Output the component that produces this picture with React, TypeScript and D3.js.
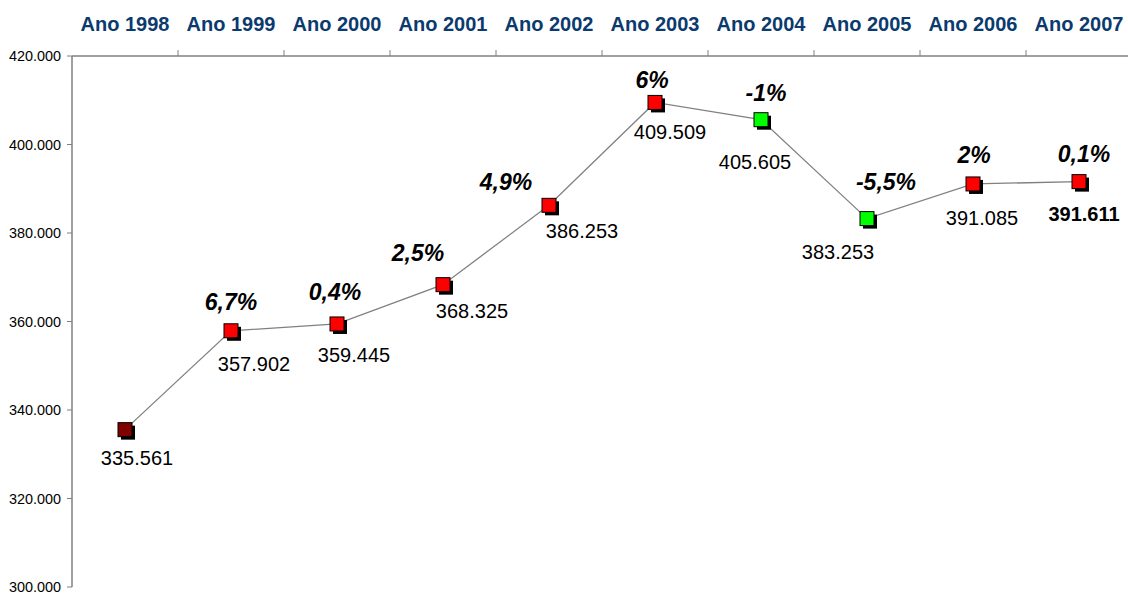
import React from "react";
import * as d3 from "d3";

const years = ["Ano 1998", "Ano 1999", "Ano 2000", "Ano 2001", "Ano 2002", "Ano 2003", "Ano 2004", "Ano 2005", "Ano 2006", "Ano 2007"];
const values = [335561, 357902, 359445, 368325, 386253, 409509, 405605, 383253, 391085, 391611];
const changeLabels = ["", "6,7%", "0,4%", "2,5%", "4,9%", "6%", "-1%", "-5,5%", "2%", "0,1%"];
const markerColors = ["#800000", "#FF0000", "#FF0000", "#FF0000", "#FF0000", "#FF0000", "#00FF00", "#00FF00", "#FF0000", "#FF0000"];
const yTicks = [300000, 320000, 340000, 360000, 380000, 400000, 420000];
// label nudges relative to each marker (value label, change label)
const valueLabelNudge: [number, number][] = [[12, 28], [23, 33], [17, 31], [29, 26], [33, 26], [15, 30], [-6, 42], [-29, 33], [9, 34], [5, 32]];
const changeLabelNudge: [number, number][] = [[0, 0], [0, -29], [-2, -32], [-25, -32], [-43, -23], [-3, -22], [5, -27], [19, -37], [1, -29], [5, -28]];

const W = 1128;
const H = 593;

export default function App() {
  const x = d3.scaleBand<string>().domain(years).range([72, 1132]).padding(0);
  const y = d3.scaleLinear().domain([300000, 420000]).range([587, 56]);
  const loc = d3.formatLocale({ decimal: ",", thousands: ".", grouping: [3], currency: ["", ""] });
  const fmtInt = loc.format(",d");
  const pts = values.map((v, i) => [(x(years[i]) as number) + x.bandwidth() / 2, y(v)] as [number, number]);
  const line = d3.line();
  const font = "'Liberation Sans', Arial, sans-serif";
  const ms = 14;
  return (
    <svg width={W} height={H} style={{ position: "absolute", left: 0, top: 0, background: "#fff" }} fontFamily={font}>
      {/* y axis */}
      <line x1={72} x2={72} y1={56} y2={587} stroke="#808080" strokeWidth={1.5} />
      {yTicks.map((t) => (
        <g key={t}>
          <line x1={67} x2={72} y1={y(t)} y2={y(t)} stroke="#808080" strokeWidth={1} />
          <text x={61} y={y(t)} dy="0.35em" textAnchor="end" fontSize={14.4} fill="#000">
            {fmtInt(t)}
          </text>
        </g>
      ))}
      {/* top axis */}
      <line x1={72} x2={W} y1={56} y2={56} stroke="#808080" strokeWidth={1.5} />
      {years.map((yr, i) => (
        <g key={yr}>
          {i > 0 && <line x1={x(yr) as number} x2={x(yr) as number} y1={50} y2={56} stroke="#808080" strokeWidth={1} />}
          <text x={(x(yr) as number) + x.bandwidth() / 2} y={24} dy="0.35em" textAnchor="middle" fontSize={20} fontWeight="bold" fill="#0B3A6E">
            {yr}
          </text>
        </g>
      ))}
      {/* line */}
      <path d={line(pts) || ""} fill="none" stroke="#808080" strokeWidth={1.3} />
      {/* markers */}
      {pts.map(([px, py], i) => (
        <g key={i}>
          <rect x={px - ms / 2 + 3} y={py - ms / 2 + 3} width={ms} height={ms} fill="#000" />
          <rect x={px - ms / 2} y={py - ms / 2} width={ms} height={ms} fill={markerColors[i]} stroke="#000" strokeWidth={1} />
        </g>
      ))}
      {/* value labels */}
      {pts.map(([px, py], i) => (
        <text key={"v" + i} x={px + valueLabelNudge[i][0]} y={py + valueLabelNudge[i][1]} dy="0.35em" textAnchor="middle" fontSize={20} fontWeight={i === values.length - 1 ? "bold" : "normal"} fill="#000">
          {fmtInt(values[i])}
        </text>
      ))}
      {/* change labels */}
      {pts.map(([px, py], i) =>
        changeLabels[i] ? (
          <text key={"c" + i} x={px + changeLabelNudge[i][0]} y={py + changeLabelNudge[i][1]} dy="0.35em" textAnchor="middle" fontSize={23} fontWeight="bold" fontStyle="italic" fill="#000">
            {changeLabels[i]}
          </text>
        ) : null
      )}
    </svg>
  );
}
